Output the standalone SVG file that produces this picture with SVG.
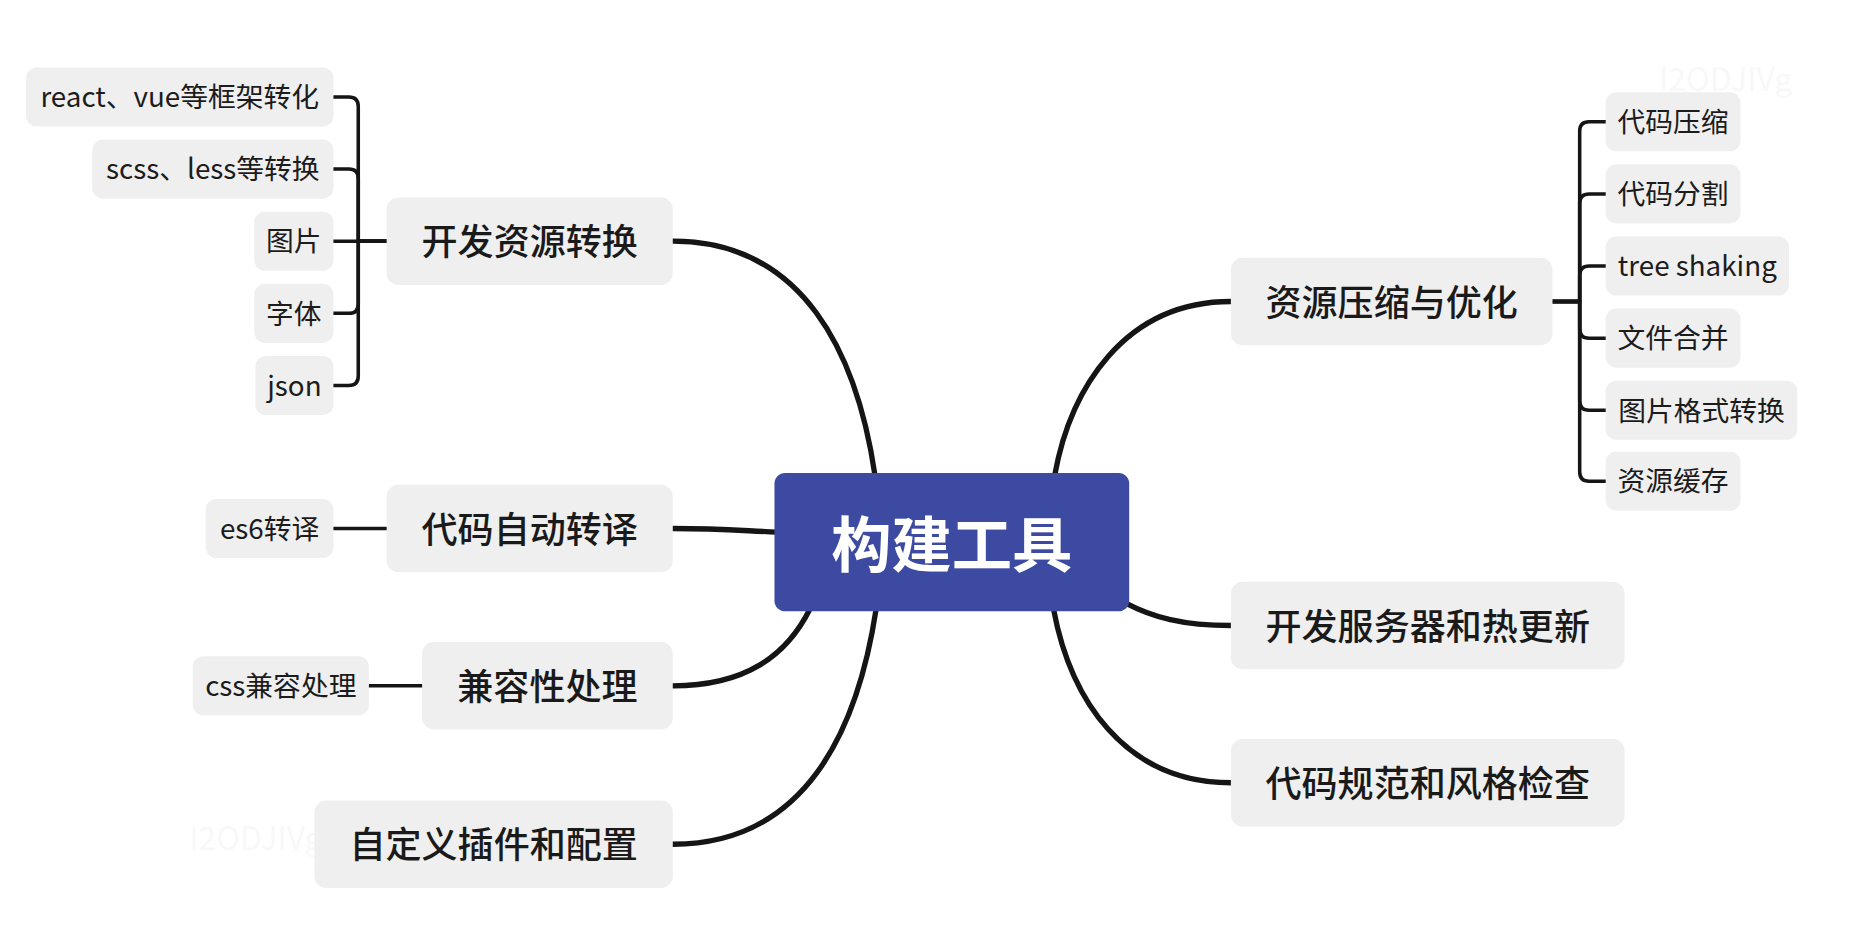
<svg xmlns="http://www.w3.org/2000/svg" width="1854" height="952" viewBox="0 0 1854 952">
<style>
.sub rect{fill:#efefef}
.main rect{fill:#efefef}
.sub text{font-family:"Noto Sans CJK SC","Noto Sans",sans-serif;font-size:23.5px;fill:#1c1c1c;text-anchor:middle;dominant-baseline:central}
.main text{font-family:"Noto Sans CJK SC","Noto Sans",sans-serif;font-size:30.5px;font-weight:500;fill:#1a1a1a;text-anchor:middle;dominant-baseline:central}
.wm{font-family:"Noto Sans CJK SC","Noto Sans",sans-serif;font-size:27px;fill:#000;opacity:0.025}
#connectors path{fill:none;stroke:#151515;stroke-linecap:round;stroke-linejoin:round}
.c-main{stroke-width:4.5}
.c-sub{stroke-width:3}
</style>
<rect width="1854" height="952" fill="#ffffff"/>
<g transform="scale(1.18240)">
<text class="wm" x="1403" y="77">I2ODJIVg</text>
<text class="wm" x="160" y="719">I2ODJIVg</text>
<g id="connectors">
  <path class="c-main" d="M569 204 C680 204 725 300 740 402"/>
  <path class="c-main" d="M569 447 C610 447 630 449 657 450"/>
  <path class="c-main" d="M569 580 C630 580 665 555 685 515"/>
  <path class="c-main" d="M569 714 C680 714 725 620 741 515"/>
  <path class="c-main" d="M1041 255 C950 255 905 330 892 402"/>
  <path class="c-main" d="M1041 529 C1000 529 975 522 952 510"/>
  <path class="c-main" d="M1041 662 C950 662 905 590 891 515"/>
  <path class="c-sub" d="M327 204 H303 V90 Q303 82 295 82 H282"/>
  <path class="c-sub" d="M327 204 H303 V151 Q303 143 295 143 H282"/>
  <path class="c-sub" d="M327 204 H282"/>
  <path class="c-sub" d="M327 204 H303 V257 Q303 265 295 265 H282"/>
  <path class="c-sub" d="M327 204 H303 V318 Q303 326 295 326 H282"/>
  <path class="c-sub" d="M327 447 H282"/>
  <path class="c-sub" d="M357 580 H312"/>
  <path class="c-sub" d="M1313 255 H1336 V111 Q1336 103 1344 103 H1358"/>
  <path class="c-sub" d="M1313 255 H1336 V172 Q1336 164 1344 164 H1358"/>
  <path class="c-sub" d="M1313 255 H1336 V233 Q1336 225 1344 225 H1358"/>
  <path class="c-sub" d="M1313 255 H1336 V278 Q1336 286 1344 286 H1358"/>
  <path class="c-sub" d="M1313 255 H1336 V339 Q1336 347 1344 347 H1358"/>
  <path class="c-sub" d="M1313 255 H1336 V399 Q1336 407 1344 407 H1358"/>
</g>
<g id="root">
  <rect x="655" y="400" width="300" height="117" rx="9" fill="#3d4aa2"/>
  <text x="805" y="457" font-family="'Noto Sans CJK SC','Noto Sans',sans-serif" font-size="51" font-weight="700" fill="#ffffff" text-anchor="middle" dominant-baseline="central">构建工具</text>
</g>
<g id="n-kaifa" class="main"><rect x="327" y="167" width="242" height="74" rx="10"/><text x="448" y="202.5">开发资源转换</text></g>
<g id="n-zhuanyi" class="main"><rect x="327" y="410" width="242" height="74" rx="10"/><text x="448" y="445.5">代码自动转译</text></g>
<g id="n-jianrong" class="main"><rect x="357" y="543" width="212" height="74" rx="10"/><text x="463" y="578.5">兼容性处理</text></g>
<g id="n-chajian" class="main"><rect x="266" y="677" width="303" height="74" rx="10"/><text x="417.5" y="712.5">自定义插件和配置</text></g>
<g id="n-yasuo" class="main"><rect x="1041" y="218" width="272" height="74" rx="10"/><text x="1177" y="253.5">资源压缩与优化</text></g>
<g id="n-server" class="main"><rect x="1041" y="492" width="333" height="74" rx="10"/><text x="1207.5" y="527.5">开发服务器和热更新</text></g>
<g id="n-lint" class="main"><rect x="1041" y="625" width="333" height="74" rx="10"/><text x="1207.5" y="660.5">代码规范和风格检查</text></g>
<g id="s-react" class="sub"><rect x="22" y="57" width="260" height="50" rx="9"/><text x="152" y="80.5">react、vue等框架转化</text></g>
<g id="s-scss" class="sub"><rect x="78" y="118" width="204" height="50" rx="9"/><text x="180" y="141.5">scss、less等转换</text></g>
<g id="s-img" class="sub"><rect x="215" y="179" width="67" height="50" rx="9"/><text x="248.5" y="202.5">图片</text></g>
<g id="s-font" class="sub"><rect x="215" y="240" width="67" height="50" rx="9"/><text x="248.5" y="263.5">字体</text></g>
<g id="s-json" class="sub"><rect x="216" y="301" width="66" height="50" rx="9"/><text x="249" y="324.5">json</text></g>
<g id="s-es6" class="sub"><rect x="174" y="422" width="108" height="50" rx="9"/><text x="228" y="445.5">es6转译</text></g>
<g id="s-css" class="sub"><rect x="163" y="555" width="149" height="50" rx="9"/><text x="237.5" y="578.5">css兼容处理</text></g>
<g id="s-ys" class="sub"><rect x="1358" y="78" width="114" height="50" rx="9"/><text x="1415" y="101.5">代码压缩</text></g>
<g id="s-fg" class="sub"><rect x="1358" y="139" width="114" height="50" rx="9"/><text x="1415" y="162.5">代码分割</text></g>
<g id="s-tree" class="sub"><rect x="1358" y="200" width="155" height="50" rx="9"/><text x="1435.5" y="223.5">tree shaking</text></g>
<g id="s-hb" class="sub"><rect x="1358" y="261" width="114" height="50" rx="9"/><text x="1415" y="284.5">文件合并</text></g>
<g id="s-tp" class="sub"><rect x="1358" y="322" width="162" height="50" rx="9"/><text x="1439" y="345.5">图片格式转换</text></g>
<g id="s-hc" class="sub"><rect x="1358" y="382" width="114" height="50" rx="9"/><text x="1415" y="405.5">资源缓存</text></g>
</g>
</svg>
